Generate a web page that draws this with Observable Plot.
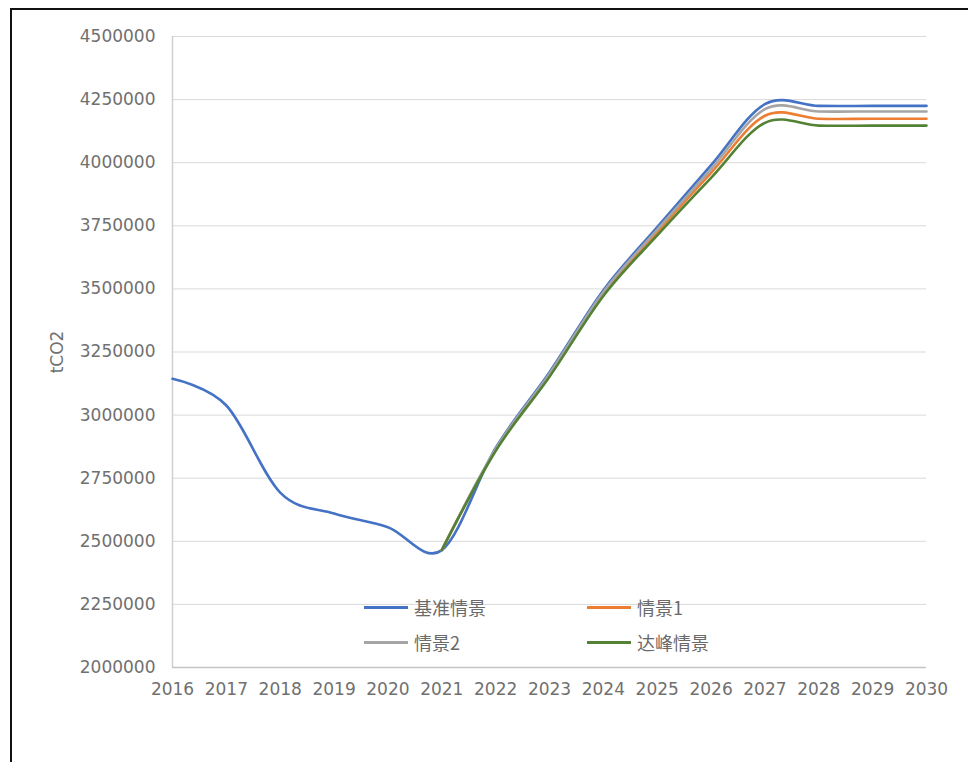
<!DOCTYPE html>
<html>
<head>
<meta charset="utf-8">
<script src="https://cdn.jsdelivr.net/npm/d3@7"></script>
<script src="https://cdn.jsdelivr.net/npm/@observablehq/plot@0.6"></script>
<style>
  html, body { margin: 0; padding: 0; background: #fff; }
  #wrap { position: relative; width: 968px; height: 762px; overflow: hidden; }
  #frame { position: absolute; left: 10px; top: 8px; width: 960px; height: 760px;
           border-left: 2px solid #111; border-top: 2px solid #111; pointer-events: none; }
  #legend { position: absolute; left: 0; top: 0; font-family: "Noto Sans CJK SC", sans-serif;
            font-size: 18px; color: #6a6a6a; }
  .item { position: absolute; display: flex; align-items: center; white-space: nowrap; }
  .sw { width: 44px; height: 3px; margin-right: 6px; }
</style>
</head>
<body>
<div id="wrap">
  <div id="chart"></div>
  <div id="legend"></div>
  <div id="frame"></div>
</div>
<script>
const years = [2016, 2017, 2018, 2019, 2020, 2021, 2022, 2023, 2024, 2025, 2026, 2027, 2028, 2029, 2030];
const seriesNames = ["基准情景", "情景1", "情景2", "达峰情景"];
const seriesColors = ["#4472C4", "#ED7D31", "#A5A5A5", "#548235"];
const baseline  = [3144000, 3038000, 2693000, 2610000, 2556000, 2465000, 2870000, 3170000, 3495000, 3745000, 3990000, 4232000, 4225000, 4225000, 4225000];
const scenario1 = [null, null, null, null, null, 2465000, 2862000, 3158000, 3480000, 3725000, 3960000, 4186000, 4174000, 4174000, 4174000];
const scenario2 = [null, null, null, null, null, 2465000, 2866000, 3164000, 3488000, 3735000, 3975000, 4212000, 4203000, 4203000, 4203000];
const peakCase  = [null, null, null, null, null, 2465000, 2858000, 3152000, 3472000, 3712000, 3940000, 4158000, 4147000, 4147000, 4147000];
const yTicks = [2000000, 2250000, 2500000, 2750000, 3000000, 3250000, 3500000, 3750000, 4000000, 4250000, 4500000];

const allSeries = [baseline, scenario1, scenario2, peakCase];
const data = [];
allSeries.forEach((vals, i) => vals.forEach((v, j) => {
  if (v != null) data.push({year: years[j], value: v, series: seriesNames[i]});
}));

const W = 968, H = 762;
const mL = 172, mR = 42, mT = 36, mB = 95;

const chart = Plot.plot({
  width: W, height: H,
  marginLeft: mL, marginRight: mR, marginTop: mT, marginBottom: mB,
  style: { fontFamily: "DejaVu Sans, sans-serif", fontSize: "17px", color: "#707070", background: "#fff" },
  x: { type: "linear", domain: [years[0], years[years.length - 1]], ticks: years, tickFormat: d3.format("d"),
       tickSize: 0, tickPadding: 15, label: null },
  y: { domain: [yTicks[0], yTicks[yTicks.length - 1]], ticks: yTicks, tickFormat: d3.format("d"),
       tickSize: 0, tickPadding: 17, label: "tCO2", labelAnchor: "center", labelArrow: "none", labelOffset: 122 },
  color: { domain: seriesNames, range: seriesColors },
  marks: [
    Plot.gridY(yTicks, { stroke: "#d9d9d9", strokeOpacity: 1, strokeWidth: 1 }),
    Plot.ruleX([years[0]], { stroke: "#d0d0d0", strokeWidth: 1.5 }),
    Plot.ruleY([yTicks[0]], { stroke: "#c4c4c4", strokeWidth: 1.5 }),
    ...seriesNames.map((name, i) =>
      Plot.line(data.filter(d => d.series === name), {
        x: "year", y: "value", stroke: seriesColors[i], strokeWidth: 2.6,
        curve: "cardinal", tension: 0
      })
    )
  ]
});
document.getElementById("chart").appendChild(chart);

// Legend inside the plot area (HTML overlay)
const legend = document.getElementById("legend");
const positions = [[364, 607], [587, 607], [364, 642], [587, 642]];
seriesNames.forEach((name, i) => {
  const it = document.createElement("div");
  it.className = "item";
  it.style.left = positions[i][0] + "px";
  it.style.top = (positions[i][1] - 13) + "px";
  it.style.height = "26px";
  const sw = document.createElement("div");
  sw.className = "sw";
  sw.style.background = seriesColors[i];
  const tx = document.createElement("span");
  tx.textContent = name;
  it.appendChild(sw); it.appendChild(tx);
  legend.appendChild(it);
});
</script>
</body>
</html>
